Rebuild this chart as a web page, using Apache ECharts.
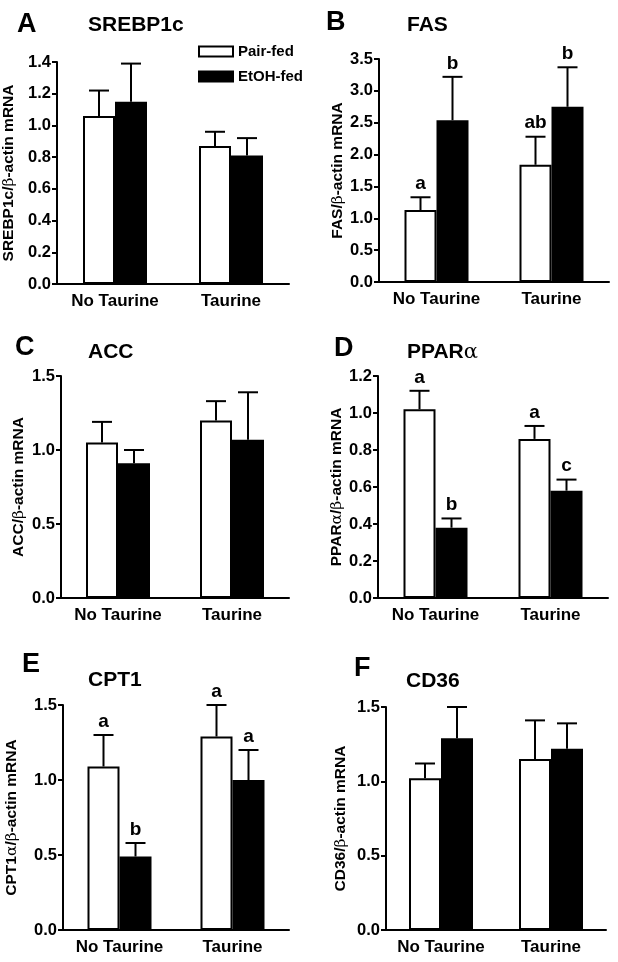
<!DOCTYPE html>
<html>
<head>
<meta charset="utf-8">
<script src="https://cdn.jsdelivr.net/npm/echarts@6/dist/echarts.min.js"></script>
<style>
html,body{margin:0;padding:0;background:#fff;}
#chart{width:618px;height:962px;}
</style>
</head>
<body>
<div id="chart"></div>
<script>
// ---- data ----
const categories = ['No Taurine', 'Taurine'];
const seriesNames = ['Pair-fed', 'EtOH-fed'];

const srebpPair = [1.06, 0.87];
const srebpPairErr = [1.22, 0.96];
const srebpEtoh = [1.15, 0.81];
const srebpEtohErr = [1.39, 0.92];

const fasPair = [1.13, 1.84];
const fasPairErr = [1.33, 2.28];
const fasEtoh = [2.54, 2.75];
const fasEtohErr = [3.22, 3.37];
const fasPairLetters = ['a', 'ab'];
const fasEtohLetters = ['b', 'b'];

const accPair = [1.05, 1.20];
const accPairErr = [1.19, 1.33];
const accEtoh = [0.91, 1.07];
const accEtohErr = [1.00, 1.39];

const pparPair = [1.02, 0.86];
const pparPairErr = [1.12, 0.93];
const pparEtoh = [0.38, 0.58];
const pparEtohErr = [0.43, 0.64];
const pparPairLetters = ['a', 'a'];
const pparEtohLetters = ['b', 'c'];

const cptPair = [1.09, 1.29];
const cptPairErr = [1.30, 1.50];
const cptEtoh = [0.49, 1.00];
const cptEtohErr = [0.58, 1.20];
const cptPairLetters = ['a', 'a'];
const cptEtohLetters = ['b', 'a'];

const cd36Pair = [1.02, 1.15];
const cd36PairErr = [1.12, 1.41];
const cd36Etoh = [1.29, 1.22];
const cd36EtohErr = [1.50, 1.39];

// tick settings
const yMaxA = 1.4, yStepA = 0.2;
const yMaxB = 3.5, yStepB = 0.5;
const yMaxC = 1.5, yStepC = 0.5;
const yMaxD = 1.2, yStepD = 0.2;
const yMaxE = 1.5, yStepE = 0.5;
const yMaxF = 1.5, yStepF = 0.5;

// ---- layout / panels ----
const FONT = '"Liberation Sans", Arial, Helvetica, sans-serif';
const panels = [
  { letter:'A', title:'SREBP1c', yname:'SREBP1c/{g|β}-actin mRNA', max:yMaxA, step:yStepA,
    pair:srebpPair, pairErr:srebpPairErr, etoh:srebpEtoh, etohErr:srebpEtohErr,
    grid:{left:57, top:62, width:232, height:222}, nameGap:40,
    lx:17, ly:11, tx:88, ty:15 },
  { letter:'B', title:'FAS', yname:'FAS/{g|β}-actin mRNA', max:yMaxB, step:yStepB,
    pair:fasPair, pairErr:fasPairErr, etoh:fasEtoh, etohErr:fasEtohErr,
    pairL:fasPairLetters, etohL:fasEtohLetters,
    grid:{left:379, top:59, width:230, height:223}, nameGap:33,
    lx:326, ly:9, tx:407, ty:15 },
  { letter:'C', title:'ACC', yname:'ACC/{g|β}-actin mRNA', max:yMaxC, step:yStepC,
    pair:accPair, pairErr:accPairErr, etoh:accEtoh, etohErr:accEtohErr,
    grid:{left:61, top:376, width:228, height:222}, nameGap:34,
    lx:15, ly:334, tx:88, ty:342 },
  { letter:'D', title:'PPAR{g|α}', yname:'PPAR{g|α}/{g|β}-actin mRNA', max:yMaxD, step:yStepD,
    pair:pparPair, pairErr:pparPairErr, etoh:pparEtoh, etohErr:pparEtohErr,
    pairL:pparPairLetters, etohL:pparEtohLetters,
    grid:{left:378, top:376, width:230, height:222}, nameGap:30,
    lx:334, ly:335, tx:407, ty:342 },
  { letter:'E', title:'CPT1', yname:'CPT1{g|α}/{g|β}-actin mRNA', max:yMaxE, step:yStepE,
    pair:cptPair, pairErr:cptPairErr, etoh:cptEtoh, etohErr:cptEtohErr,
    pairL:cptPairLetters, etohL:cptEtohLetters,
    grid:{left:63, top:705, width:226, height:225}, nameGap:43,
    lx:22, ly:651, tx:88, ty:670 },
  { letter:'F', title:'CD36', yname:'CD36/{g|β}-actin mRNA', max:yMaxF, step:yStepF,
    pair:cd36Pair, pairErr:cd36PairErr, etoh:cd36Etoh, etohErr:cd36EtohErr,
    grid:{left:386, top:707, width:220, height:223}, nameGap:37,
    lx:354, ly:655, tx:406, ty:671 }
];

const grids = [], xAxes = [], yAxes = [], series = [], titles = [];

function errSeries(i, vals, errs, letters, side) {
  return {
    type: 'custom', xAxisIndex: i, yAxisIndex: i, z: 5, silent: true,
    data: vals.map((v, k) => [k, v, errs[k]]),
    encode: { x: 0, y: [1, 2] },
    renderItem: function (params, api) {
      const c0 = api.coord([api.value(0), api.value(1)]);
      const c1 = api.coord([api.value(0), api.value(2)]);
      const cx = c0[0] + side * 16;
      const ls = { stroke: '#000', lineWidth: 2 };
      const children = [
        { type: 'line', shape: { x1: cx, y1: c0[1], x2: cx, y2: c1[1] }, style: ls },
        { type: 'line', shape: { x1: cx - 10, y1: c1[1], x2: cx + 10, y2: c1[1] }, style: ls }
      ];
      if (letters && letters[params.dataIndex]) {
        children.push({ type: 'text', style: { x: cx, y: c1[1] - 4, text: letters[params.dataIndex],
          textAlign: 'center', textVerticalAlign: 'bottom', fill: '#000',
          font: 'bold 19px ' + FONT } });
      }
      return { type: 'group', children: children };
    }
  };
}

panels.forEach((p, i) => {
  grids.push(p.grid);
  xAxes.push({
    type: 'category', gridIndex: i, data: categories,
    axisLine: { lineStyle: { color: '#000', width: 2 } },
    axisTick: { alignWithLabel: true, length: 5, lineStyle: { color: '#000', width: 2 } },
    axisLabel: { interval: 0, color: '#000', fontFamily: FONT, fontWeight: 'bold', fontSize: 17, margin: 9 }
  });
  yAxes.push({
    type: 'value', gridIndex: i, min: 0, max: p.max, interval: p.step,
    name: p.yname, nameLocation: 'middle', nameGap: p.nameGap, nameRotate: 90,
    nameTextStyle: { color: '#000', fontFamily: FONT, fontWeight: 'bold', fontSize: 15.5,
      rich: { g: { fontFamily: 'DejaVu Serif, serif', fontWeight: 'normal', fontSize: 15.5, color: '#000' } } },
    axisLine: { show: true, lineStyle: { color: '#000', width: 2 } },
    axisTick: { show: true, length: 5, lineStyle: { color: '#000', width: 2 } },
    splitLine: { show: false },
    axisLabel: { color: '#000', fontFamily: FONT, fontWeight: 'bold', fontSize: 16.5, margin: 6,
      formatter: v => v.toFixed(1) }
  });
  series.push({
    name: seriesNames[0], type: 'bar', xAxisIndex: i, yAxisIndex: i,
    data: p.pair, barWidth: 32, barGap: '0%',
    itemStyle: { color: '#fff', borderColor: '#000', borderWidth: 2 }
  });
  series.push({
    name: seriesNames[1], type: 'bar', xAxisIndex: i, yAxisIndex: i,
    data: p.etoh, barWidth: 32, barGap: '0%',
    itemStyle: { color: '#000', borderColor: '#000', borderWidth: 2 }
  });
  series.push(errSeries(i, p.pair, p.pairErr, p.pairL, -1));
  series.push(errSeries(i, p.etoh, p.etohErr, p.etohL, 1));
  titles.push({ text: p.letter, left: p.lx, top: p.ly, padding: 0,
    textStyle: { color: '#000', fontFamily: FONT, fontWeight: 'bold', fontSize: 27 } });
  titles.push({ text: p.title, left: p.tx, top: p.ty, padding: 0,
    textStyle: { color: '#000', fontFamily: FONT, fontWeight: 'bold', fontSize: 21,
      rich: { g: { fontFamily: 'DejaVu Serif, serif', fontWeight: 'normal', fontSize: 21, color: '#000' } } } });
});

const chart = echarts.init(document.getElementById('chart'), null, { renderer: 'canvas' });
chart.setOption({
  animation: false,
  backgroundColor: '#fff',
  title: titles,
  legend: {
    data: seriesNames, orient: 'vertical', left: 198, top: 44, padding: 0,
    itemWidth: 34, itemHeight: 10, itemGap: 10, icon: 'rect',
    textStyle: { color: '#000', fontFamily: FONT, fontWeight: 'bold', fontSize: 15 },
    selectedMode: false
  },
  grid: grids, xAxis: xAxes, yAxis: yAxes, series: series
});
</script>
</body>
</html>
